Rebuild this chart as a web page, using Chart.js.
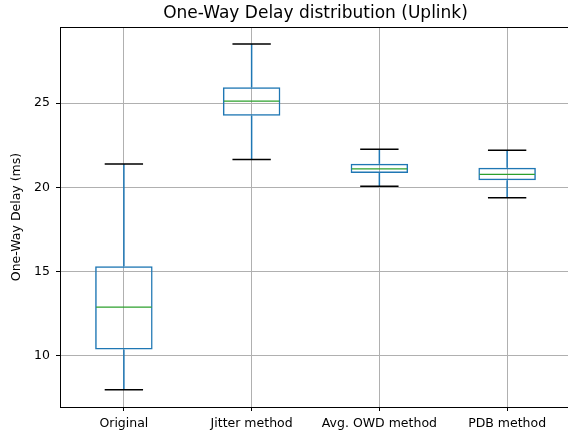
<!DOCTYPE html>
<html>
<head>
<meta charset="utf-8">
<script src="https://cdn.jsdelivr.net/npm/chart.js@4"></script>
<style>
html,body{margin:0;padding:0;overflow:hidden;background:#fff;}
#wrap{width:631px;height:440px;}
</style>
</head>
<body>
<div id="wrap"><canvas id="c" width="631" height="440"></canvas></div>
<script>
const categories = ["Original", "Jitter method", "Avg. OWD method", "PDB method"];
const whiskerLow  = [7.98, 21.66, 20.06, 19.39];
const quartile1   = [10.36, 24.26, 20.86, 20.43];
const medians     = [12.88, 25.12, 21.10, 20.77];
const quartile3   = [15.32, 25.95, 21.40, 21.16];
const whiskerHigh = [21.39, 28.52, 22.26, 22.21];
const yTicks = [10, 15, 20, 25];

const FONT = "'DejaVu Sans', sans-serif";
const BLUE = '#1f77b4';

const boxPlugin = {
  id: 'boxParts',
  afterDatasetsDraw(chart) {
    const ctx = chart.ctx;
    const xs = chart.scales.x, ys = chart.scales.y;
    const meta = chart.getDatasetMeta(0);
    ctx.save();
    categories.forEach((c, i) => {
      const x = xs.getPixelForValue(i);
      const bar = meta.data[i];
      const bw = bar.width;
      const capW = bw * 0.667;
      const yMin = ys.getPixelForValue(whiskerLow[i]);
      const yQ1 = ys.getPixelForValue(quartile1[i]);
      const yMed = ys.getPixelForValue(medians[i]);
      const yQ3 = ys.getPixelForValue(quartile3[i]);
      const yMax = ys.getPixelForValue(whiskerHigh[i]);
      ctx.strokeStyle = BLUE; ctx.lineWidth = 1.5;
      ctx.beginPath();
      ctx.moveTo(x, yQ1); ctx.lineTo(x, yMin);
      ctx.moveTo(x, yQ3); ctx.lineTo(x, yMax);
      ctx.stroke();
      ctx.strokeStyle = '#000'; ctx.lineWidth = 1.5;
      ctx.beginPath();
      ctx.moveTo(x - capW/2, yMin); ctx.lineTo(x + capW/2, yMin);
      ctx.moveTo(x - capW/2, yMax); ctx.lineTo(x + capW/2, yMax);
      ctx.stroke();
      ctx.strokeStyle = '#2ca02c'; ctx.lineWidth = 1.3;
      ctx.beginPath();
      ctx.moveTo(x - bw/2 + 1, yMed); ctx.lineTo(x + bw/2 - 1, yMed);
      ctx.stroke();
    });
    const a = chart.chartArea;
    ctx.strokeStyle = '#000'; ctx.lineWidth = 1;
    ctx.beginPath();
    ctx.moveTo(a.left, a.top + 0.5); ctx.lineTo(a.right, a.top + 0.5);
    ctx.stroke();
    ctx.restore();
  }
};

new Chart(document.getElementById('c'), {
  type: 'bar',
  data: {
    labels: categories,
    datasets: [{
      data: categories.map((c, i) => [quartile1[i], quartile3[i]]),
      backgroundColor: 'rgba(0,0,0,0)',
      borderColor: BLUE,
      borderWidth: 1.5,
      borderSkipped: false,
      barPercentage: 0.45,
      categoryPercentage: 1.0
    }]
  },
  plugins: [boxPlugin],
  options: {
    responsive: false,
    animation: false,
    layout: { padding: 0 },
    plugins: {
      legend: { display: false },
      tooltip: { enabled: false },
      title: {
        display: true,
        text: 'One-Way Delay distribution (Uplink)',
        color: '#000',
        font: { family: FONT, size: 17, weight: 'normal', lineHeight: 1.2 },
        padding: { top: 3, bottom: 3.6 }
      }
    },
    scales: {
      x: {
        type: 'category',
        offset: true,
        grid: { offset: false, color: '#b0b0b0', lineWidth: 1, drawTicks: true, tickLength: 4, tickColor: '#000' },
        border: { color: '#000', width: 1 },
        ticks: { color: '#000', font: { family: FONT, size: 12.5 }, padding: 5, maxRotation: 0, autoSkip: false },
        afterFit(s) { s.height = 33; }
      },
      y: {
        min: 6.95,
        max: 29.53,
        afterBuildTicks(s) { s.ticks = yTicks.map(v => ({ value: v })); },
        grid: { color: '#b0b0b0', lineWidth: 1, drawTicks: true, tickLength: 4, tickColor: '#000' },
        border: { color: '#000', width: 1 },
        ticks: { color: '#000', font: { family: FONT, size: 12.5 }, padding: 6 },
        title: {
          display: true,
          text: 'One-Way Delay (ms)',
          color: '#000',
          font: { family: FONT, size: 12.5 },
          padding: { top: 9, bottom: 0 }
        },
        afterFit(s) { s.width = 60; }
      },
      yRight: {
        position: 'right',
        min: 0, max: 1,
        grid: { display: false },
        border: { display: false },
        ticks: { display: false },
        afterFit(s) { s.width = 60; }
      }
    }
  }
});
</script>
</body>
</html>
